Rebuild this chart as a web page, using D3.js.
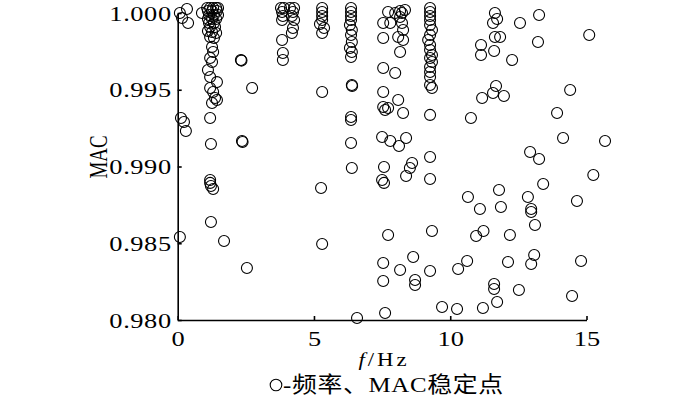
<!DOCTYPE html>
<html>
<head>
<meta charset="utf-8">
<script src="https://cdn.jsdelivr.net/npm/d3@7"></script>
<style>
  body { margin: 0; background: #fff; }
  svg text { font-family: "Liberation Serif", "Times New Roman", serif; fill: #000; }
</style>
</head>
<body>
<svg width="700" height="397"></svg>
<script>
// stable points: frequency (Hz) and MAC, same order
var freqHz = [
  // near 0 Hz
  0.08, 0.34, 0.16, 0.38, 0.12, 0.23, 0.30, 0.08, 0.89,
  // ~1.2 Hz column
  1.08, 1.19, 1.30, 1.41, 1.48, 1.11, 1.26, 1.44, 1.15, 1.33, 1.48, 1.11, 1.26, 1.41,
  1.15, 1.33, 1.19, 1.37, 1.11, 1.26, 1.41, 1.19, 1.33,
  1.26, 1.30, 1.19, 1.26, 1.11, 1.19, 1.44, 1.19, 1.30, 1.37, 1.26, 1.44, 1.19, 1.22,
  1.19, 1.19, 1.22, 1.30, 1.22, 1.70,
  // ~2.4 Hz
  2.32, 2.34, 2.73, 2.36, 2.38, 2.54,
  // ~4 Hz
  3.79, 3.90, 4.12, 4.27, 3.83, 4.23, 3.86, 4.19, 3.83, 4.27, 4.23, 4.19, 3.83, 3.86, 3.86,
  // ~5.3 Hz
  5.30, 5.30, 5.30, 5.30, 5.22, 5.37, 5.30, 5.30, 5.26, 5.30,
  // ~6.4 Hz
  6.36, 6.36, 6.36, 6.36, 6.32, 6.39, 6.36, 6.39, 6.32, 6.39, 6.36, 6.39, 6.40, 6.36,
  6.36, 6.36, 6.39, 6.58,
  // ~7.5-8.7 Hz
  7.72, 7.54, 7.80, 8.23, 8.34, 8.16, 8.23, 8.27, 8.09, 8.27, 8.16, 7.54, 7.98, 8.16,
  7.54, 7.98, 7.54, 8.09, 7.54, 7.61, 7.72, 8.27,
  7.50, 7.80, 8.12, 8.38, 7.57, 7.50, 7.57, 8.60, 8.52, 8.38,
  7.72, 7.54, 8.16, 8.64, 7.54, 8.71, 8.71, 7.61,
  // ~9.3 Hz
  9.26, 9.26, 9.26, 9.26, 9.26, 9.33, 9.26, 9.19, 9.26, 9.26, 9.33, 9.26, 9.33, 9.26,
  9.26, 9.26, 9.26, 9.33, 9.26, 9.26, 9.26, 9.33, 9.26,
  // 9.7 Hz and up
  9.70, 10.25, 10.29, 10.62, 10.65, 10.76, 10.95, 11.22, 11.09, 11.79, 11.86, 12.85,
  12.97, 12.97, 13.41, 13.11, 12.19, 12.12, 13.08, 12.97, 11.61, 11.61, 11.72, 12.52,
  11.20, 14.47, 14.80, 14.65, 15.25, 15.68, 14.14, 12.93, 13.26, 14.40, 13.92, 15.10,
  11.64, 11.72, 11.57, 12.56, 13.26, 11.64, 11.83, 11.13, 11.13, 11.61, 13.22, 12.27,
  11.68, 11.57, 11.97, 11.17
];
var macVal = [
  1.00000, 1.00026, 0.99967, 0.99935, 0.99316, 0.99290, 0.99231, 0.98541, 1.00000,
  1.00033, 1.00033, 1.00033, 1.00033, 1.00033, 1.00013, 1.00013, 1.00013, 0.99987, 0.99987, 0.99987, 0.99961, 0.99961, 0.99961,
  0.99935, 0.99935, 0.99909, 0.99909, 0.99883, 0.99876, 0.99870, 0.99844, 0.99837,
  0.99779, 0.99746, 0.99707, 0.99681, 0.99629, 0.99583, 0.99550, 0.99511, 0.99485, 0.99446, 0.99414, 0.99433, 0.99316, 0.99147,
  0.98912, 0.98893, 0.98873, 0.98853, 0.98638, 0.98515,
  0.99694, 0.99690, 0.99511, 0.99166, 0.99160, 0.98339,
  1.00033, 1.00033, 1.00033, 1.00033, 1.00007, 1.00007, 0.99980, 0.99980, 0.99954, 0.99954, 0.99902, 0.99870, 0.99824, 0.99739, 0.99694,
  1.00033, 1.00007, 0.99980, 0.99954, 0.99928, 0.99902, 0.99870, 0.99485, 0.98860, 0.98495,
  1.00033, 1.00007, 0.99980, 0.99954, 0.99922, 0.99889, 0.99857, 0.99811, 0.99772, 0.99746, 0.99713, 0.99531, 0.99524, 0.99322,
  0.99303, 0.99153, 0.98990, 0.98013,
  1.00007, 0.99935, 0.99935, 1.00000, 1.00020, 0.99974, 0.99935, 0.99889, 0.99844, 0.99824, 0.99746, 0.99837, 1.00000, 1.00013,
  0.99642, 0.99609, 0.99485, 0.99433, 0.99388, 0.99368, 0.99381, 0.99349,
  0.99192, 0.99166, 0.99134, 0.99186, 0.98997, 0.98912, 0.98893, 0.99023, 0.98990, 0.98938,
  0.98554, 0.98371, 0.98326, 0.98410, 0.98254, 0.98261, 0.98228, 0.98046,
  1.00033, 1.00007, 0.99980, 0.99954, 0.99922, 0.99889, 0.99857, 0.99824, 0.99792, 0.99759, 0.99726, 0.99707, 0.99681, 0.99648,
  0.99616, 0.99583, 0.99531, 0.99511, 0.99336, 0.99062, 0.98919, 0.98580, 0.98319,
  0.98085, 0.98072, 0.98332, 0.98384, 0.98801, 0.99316, 0.98547, 0.98580, 0.98723, 0.98847, 0.98736, 0.98801,
  0.98723, 0.98704, 0.98886, 0.98619, 0.98554, 0.98378, 0.98423, 0.98365, 0.98235, 0.98202, 0.98117, 0.98195,
  0.98078, 0.98156, 0.98384, 0.98775, 0.98945, 0.99166, 0.99186, 0.99094, 0.99049, 0.99498, 0.99349, 0.99857,
  1.00000, 0.99961, 0.99935, 0.99935, 0.99987, 0.99844, 0.99844, 0.99792, 0.99726, 0.99752, 0.99811, 0.99694,
  0.99524, 0.99479, 0.99459, 0.99446
];
var xTicks = [0, 5, 10, 15];
var yTicks = [0.980, 0.985, 0.990, 0.995, 1.000];
var xTitle = "/Hz", yTitle = "MAC", legendText = "-频率、MAC稳定点";

var svg = d3.select("svg");

var x = d3.scaleLinear().domain([0, 15]).range([177.7, 586.5]);
var y = d3.scaleLinear().domain([0.980, 1.000]).range([320, 13]);

var pts = freqHz.map(function(f, i){ return {f: f, m: macVal[i]}; });

svg.append("g")
  .selectAll("circle")
  .data(pts)
  .enter()
  .append("circle")
  .attr("cx", function(d){ return x(d.f); })
  .attr("cy", function(d){ return y(d.m); })
  .attr("r", 5.5)
  .style("fill", "none")
  .style("stroke", "#000")
  .style("stroke-width", 1.1);

var xAxis = svg.append("g")
  .attr("transform", "translate(0,320)")
  .call(d3.axisBottom(x).tickValues(xTicks).tickFormat(d3.format("d"))
    .tickSizeInner(-4).tickSizeOuter(0).tickPadding(10));

var yAxis = svg.append("g")
  .attr("transform", "translate(177.7,0)")
  .call(d3.axisLeft(y).tickValues(yTicks).tickFormat(d3.format(".3f"))
    .tickSizeInner(-4).tickSizeOuter(0).tickPadding(5));

[xAxis, yAxis].forEach(function(g){
  g.select(".domain").style("stroke", "#000").style("stroke-width", 1.6);
  g.selectAll(".tick line").style("stroke", "#000").style("stroke-width", 1.6);
  g.selectAll(".tick text")
    .style("font-family", "'Liberation Serif', serif")
    .style("font-size", "22px")
    .style("fill", "#000")
    .attr("transform", "scale(1.2,1)");
});
yAxis.selectAll(".tick text").style("letter-spacing", "0.5px");

// axis titles (the source picture is a bit wider than tall, so text is stretched)
var xt = svg.append("text")
  .attr("transform", "translate(384,366) scale(1.2,1)")
  .attr("text-anchor", "middle")
  .style("font-size", "19px")
  .style("letter-spacing", "2.5px");
xt.append("tspan").style("font-style", "italic").text("f");
xt.append("tspan").text(xTitle);

svg.append("text")
  .attr("transform", "translate(107,157) rotate(-90) scale(0.86,1.17)")
  .attr("text-anchor", "middle")
  .style("font-size", "22px")
  .text(yTitle);

// legend
svg.append("circle")
  .attr("cx", 276).attr("cy", 385).attr("r", 5.8)
  .style("fill", "none").style("stroke", "#000").style("stroke-width", 1.1);
svg.append("text")
  .attr("transform", "translate(283,392) scale(1.13,1)")
  .style("font-size", "22px")
  .style("letter-spacing", "0.6px")
  .style("font-family", "'Liberation Serif', 'Noto Sans CJK SC', serif")
  .text(legendText);
</script>
</body>
</html>
